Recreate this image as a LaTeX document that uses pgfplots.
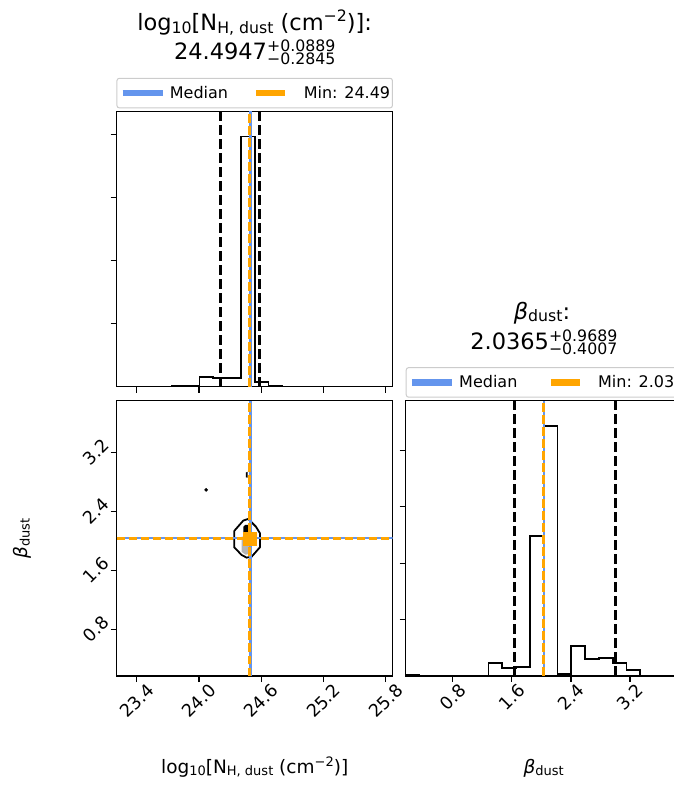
\documentclass[border=0pt]{standalone}
\usepackage{fontspec}
\setmainfont{DejaVu Sans}
\usepackage{graphicx}
\usepackage{pgfplots}
\pgfplotsset{compat=1.18}
\definecolor{cfblue}{HTML}{6495ED}
\definecolor{mplorange}{HTML}{FFA500}
\definecolor{lgray}{HTML}{B4B4B4}

\newcommand\tsz{\fontsize{22.5}{27}\selectfont}
\newcommand\tss{\fontsize{15.75}{16}\selectfont}
\newcommand\lsz{\fontsize{18.5}{22}\selectfont}
\newcommand\lss{\fontsize{13}{13}\selectfont}
\newcommand\ticksz{\fontsize{17.5}{20}\selectfont}
\newcommand\legsz{\fontsize{16}{19}\selectfont}
\newcommand\tsub[1]{\raisebox{-2.5pt}{\tss #1}}
\newcommand\tsup[1]{\raisebox{9pt}{\tss #1}}
\newcommand\supsub[2]{\rlap{\raisebox{8pt}{\tss #1}}\raisebox{-5pt}{\tss #2}}
\newcommand\lsub[1]{\raisebox{-2pt}{\lss #1}}
\newcommand\lsup[1]{\raisebox{7.5pt}{\lss #1}}

\pgfplotsset{
 corner/.style={
   scale only axis, width=276pt, height=275.3pt, anchor=south west,
   axis line style={line width=1.3pt},
   tick align=outside, xtick pos=bottom, ytick pos=left,
   major tick length=6pt,
   every tick/.style={black, line width=1.3pt},
   /pgf/number format/assume math mode=true,
   tick label style={font=\ticksz},
 },
 xrot/.style={
   xticklabel={\rotatebox{45}{\pgfmathprintnumber[fixed,fixed zerofill,precision=1]{\tick}}},
   xticklabel style={anchor=north, inner sep=0pt},
 },
 medline/.style={cfblue, line width=2.6pt, forget plot},
 minline/.style={mplorange, line width=2.6pt, dash pattern=on 8.5pt off 3.5pt, forget plot},
 qline/.style={black, line width=2.6pt, dash pattern=on 10pt off 4pt, forget plot},
 hist/.style={black, line width=1.8pt, const plot, forget plot},
 leg/.style={legend columns=2, legend cell align=left,
   legend style={at={(0.5,1)}, anchor=center, yshift=18.3pt, draw=black!20, line width=1pt,
     rounded corners=2.5pt, fill=white, inner xsep=2.3pt, inner ysep=8pt, font=\legsz,
     nodes={inner sep=0pt}, /tikz/every odd column/.append style={column sep=4pt}}},
}

\begin{document}
\begin{tikzpicture}
\path[use as bounding box] (0pt,0pt) rectangle (673pt,787pt);

% ---------- top-left: histogram of log10 N_H ----------
\begin{axis}[corner, leg, at={(116.7pt,400.3pt)},
  xmin=23.2072, xmax=25.8675, ymin=0, ymax=1.1,
  xtick={23.4,24.0,24.6,25.2,25.8}, xticklabels={},
  ytick={0.2517,0.5033,0.755,1.0067}, yticklabels={},
  legend style={/tikz/every even column/.append style={column sep=25pt}}]
\addplot[hist] coordinates {(23.2072,0) (23.3402,0) (23.4732,0) (23.6062,0) (23.7392,0.0013) (23.8723,0.004) (24.0053,0.040) (24.1383,0.0333) (24.2713,0.0333) (24.4043,1.0) (24.5373,0.02) (24.6703,0.0027) (24.8033,0) (24.9364,0) (25.0694,0) (25.2024,0) (25.3354,0) (25.4684,0) (25.6014,0) (25.7345,0) (25.8675,0)};
\addplot[qline] coordinates {(24.2102,0) (24.2102,1.1)};
\addplot[qline] coordinates {(24.5836,0) (24.5836,1.1)};
\addplot[medline] coordinates {(24.4947,0) (24.4947,1.1)};
\addplot[minline] coordinates {(24.49,0) (24.49,1.1)};
\addlegendimage{legend image code/.code={\draw[cfblue, line width=6.7pt] (0pt,0pt) -- (40pt,0pt);}}
\addlegendentry{Median}
\addlegendimage{legend image code/.code={\draw[mplorange, line width=6.7pt, dash pattern=on 29pt off 11pt] (0pt,0pt) -- (40pt,0pt);}}
\addlegendentry{Min: 24.49}
\end{axis}

% ---------- bottom-left: 2D ----------
\begin{axis}[corner, xrot, at={(116.7pt,111pt)},
  xmin=23.2072, xmax=25.8675, ymin=0.165, ymax=3.9,
  xtick={23.4,24.0,24.6,25.2,25.8},
  ytick={0.8,1.6,2.4,3.2},
  yticklabel={\rotatebox{45}{\pgfmathprintnumber[fixed,fixed zerofill,precision=1]{\tick}}},
  yticklabel style={anchor=east, inner sep=0pt},
  xlabel={log\lsub{10}[N\lsub{H, dust} (cm\lsup{−2})]},
  xlabel style={at={(axis description cs:0.5,-0.3542)}, anchor=base, font=\lsz},
  ylabel={{\itshape β}\lsub{dust}},
  ylabel style={at={(axis description cs:-0.3413,0.5)}, anchor=center, font=\lsz}]
\addplot[fill=lgray, draw=none, forget plot] coordinates {(24.411,2.056) (24.508,2.056) (24.508,1.83) (24.45,1.81) (24.411,1.85) (24.411,2.056)};
\addplot[fill=black, draw=none, forget plot] coordinates {(24.427,2.08) (24.427,2.19) (24.445,2.214) (24.482,2.214) (24.482,2.08) (24.427,2.08)};
\addplot[black, line width=1.8pt, forget plot] coordinates {(24.340,2.133) (24.427,2.273) (24.475,2.296) (24.549,2.191) (24.588,2.102) (24.588,1.912) (24.508,1.784) (24.460,1.771) (24.411,1.807) (24.340,1.912) (24.340,2.133)};
\addplot[fill=black, draw=none, forget plot] coordinates {(24.452,2.925) (24.468,2.935) (24.468,2.855) (24.452,2.86) (24.452,2.925)};
\addplot[only marks, mark=*, mark size=1.6pt, black, forget plot] coordinates {(24.07,2.69)};
\addplot[medline] coordinates {(24.4947,0.165) (24.4947,3.9)};
\addplot[minline] coordinates {(24.49,0.165) (24.49,3.9)};
\addplot[medline] coordinates {(23.2072,2.0365) (25.8675,2.0365)};
\addplot[minline] coordinates {(23.2072,2.03) (25.8675,2.03)};
\addplot[only marks, mark=square*, mark size=6.7pt, mplorange, forget plot] coordinates {(24.49,2.024)};
\end{axis}

% ---------- bottom-right: histogram of beta ----------
\begin{axis}[corner, xrot, leg, at={(405.7pt,111pt)},
  xmin=0.165, xmax=3.9, ymin=0, ymax=1.1,
  xtick={0.8,1.6,2.4,3.2},
  ytick={0.2253,0.4506,0.676,0.901}, yticklabels={},
  xlabel={{\itshape β}\lsub{dust}},
  xlabel style={at={(axis description cs:0.5,-0.3542)}, anchor=base, font=\lsz},
  legend style={at={(0,1)}, anchor=west, /tikz/every even column/.append style={column sep=30pt}}]
\addplot[hist] coordinates {(0.165,0) (0.165,0.004) (0.35175,0.001) (0.5385,0.001) (0.72525,0.001) (0.912,0.001) (1.09875,0.001) (1.2855,0.0506) (1.47225,0.0306) (1.659,0.0373) (1.84575,0.5607) (2.0325,1.0) (2.21925,0.008) (2.406,0.121) (2.59275,0.068) (2.7795,0.073) (2.96625,0.0506) (3.153,0.024) (3.33975,0.0013) (3.5265,0) (3.71325,0) (3.9,0)};
\addplot[qline] coordinates {(1.6358,0) (1.6358,1.1)};
\addplot[qline] coordinates {(3.0054,0) (3.0054,1.1)};
\addplot[medline] coordinates {(2.0365,0) (2.0365,1.1)};
\addplot[minline] coordinates {(2.03,0) (2.03,1.1)};
\addlegendimage{legend image code/.code={\draw[cfblue, line width=6.7pt] (0pt,0pt) -- (40pt,0pt);}}
\addlegendentry{Median}
\addlegendimage{legend image code/.code={\draw[mplorange, line width=6.7pt, dash pattern=on 29pt off 11pt] (0pt,0pt) -- (40pt,0pt);}}
\addlegendentry{Min: 2.03}
\end{axis}

% ---------- titles ----------
\node[anchor=base, font=\tsz, inner sep=0pt] at (254.7pt,756.3pt) {log\tsub{10}[N\tsub{H, dust} (cm\tsup{−2})]:};
\node[anchor=base, font=\tsz, inner sep=0pt] at (254.7pt,727pt) {24.4947\supsub{+0.0889}{−0.2845}};
\node[anchor=base, font=\tsz, inner sep=0pt] at (542pt,467.7pt) {{\itshape β}\tsub{dust}:};
\node[anchor=base, font=\tsz, inner sep=0pt] at (543.8pt,437.7pt) {2.0365\supsub{+0.9689}{−0.4007}};
\end{tikzpicture}
\end{document}
